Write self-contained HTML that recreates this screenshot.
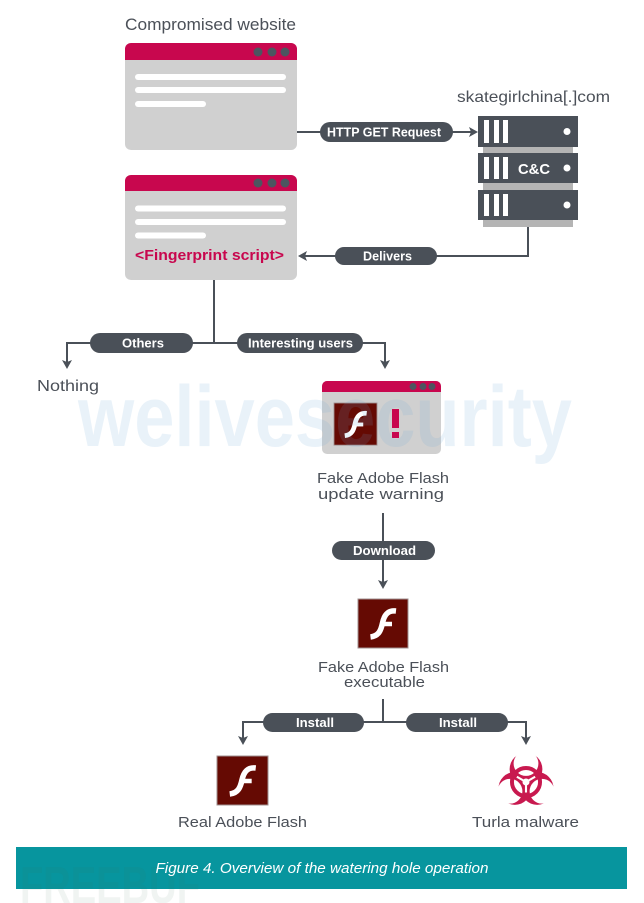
<!DOCTYPE html>
<html><head><meta charset="utf-8"><style>
html,body{margin:0;padding:0;background:#fff;}
svg{display:block;}
text{font-family:"Liberation Sans",sans-serif;}
</style></head><body>
<svg width="644" height="903" viewBox="0 0 644 903" xmlns="http://www.w3.org/2000/svg">
<rect width="644" height="903" fill="#fff"/>

<!-- Title -->
<text x="125" y="30" font-size="17" fill="#4b5058" textLength="171" lengthAdjust="spacingAndGlyphs">Compromised website</text>

<!-- Browser 1 -->
<rect x="125" y="43" width="172" height="107" rx="6" fill="#d0d0d0"/>
<path d="M125 60 V49 a6 6 0 0 1 6 -6 H291 a6 6 0 0 1 6 6 V60 Z" fill="#c8074e"/>
<circle cx="258" cy="52" r="4.5" fill="#4d5560"/>
<circle cx="272" cy="52" r="4.5" fill="#4d5560"/>
<circle cx="285" cy="52" r="4.5" fill="#4d5560"/>
<line x1="138" y1="77" x2="283" y2="77" stroke="#fff" stroke-width="6" stroke-linecap="round"/>
<line x1="138" y1="90" x2="283" y2="90" stroke="#fff" stroke-width="6" stroke-linecap="round"/>
<line x1="138" y1="104" x2="203" y2="104" stroke="#fff" stroke-width="6" stroke-linecap="round"/>

<!-- Browser 2 -->
<rect x="125" y="175" width="172" height="105" rx="6" fill="#d0d0d0"/>
<path d="M125 191 V181 a6 6 0 0 1 6 -6 H291 a6 6 0 0 1 6 6 V191 Z" fill="#c8074e"/>
<circle cx="258" cy="183" r="4.5" fill="#4d5560"/>
<circle cx="272" cy="183" r="4.5" fill="#4d5560"/>
<circle cx="285" cy="183" r="4.5" fill="#4d5560"/>
<line x1="138" y1="208.5" x2="283" y2="208.5" stroke="#fff" stroke-width="6" stroke-linecap="round"/>
<line x1="138" y1="222" x2="283" y2="222" stroke="#fff" stroke-width="6" stroke-linecap="round"/>
<line x1="138" y1="235.5" x2="203" y2="235.5" stroke="#fff" stroke-width="6" stroke-linecap="round"/>
<text x="135" y="260" font-size="15" font-weight="bold" fill="#c8074e" textLength="149" lengthAdjust="spacingAndGlyphs">&lt;Fingerprint script&gt;</text>

<!-- Server -->
<text x="457" y="102" font-size="16" fill="#4b5058" textLength="153" lengthAdjust="spacingAndGlyphs">skategirlchina[.]com</text>
<rect x="483" y="120" width="90" height="107" fill="#b4b4b4"/>
<g fill="#4a5058">
<rect x="478" y="116" width="100" height="31"/>
<rect x="478" y="153" width="100" height="30"/>
<rect x="478" y="190" width="100" height="30"/>
</g>
<g fill="#fff">
<rect x="484" y="120" width="5" height="23"/><rect x="494" y="120" width="5" height="23"/><rect x="503" y="120" width="5" height="23"/>
<rect x="484" y="157" width="5" height="22"/><rect x="494" y="157" width="5" height="22"/><rect x="503" y="157" width="5" height="22"/>
<rect x="484" y="194" width="5" height="22"/><rect x="494" y="194" width="5" height="22"/><rect x="503" y="194" width="5" height="22"/>
<circle cx="567" cy="131.5" r="3.5"/>
<circle cx="567" cy="168" r="3.5"/>
<circle cx="567" cy="205" r="3.5"/>
</g>
<text x="534" y="174" font-size="15" font-weight="bold" fill="#fff" text-anchor="middle" textLength="32" lengthAdjust="spacingAndGlyphs">C&amp;C</text>

<!-- Connectors -->
<g stroke="#4a5058" stroke-width="2" fill="none">
<line x1="297" y1="132" x2="474" y2="132"/>
<polyline points="528,227 528,256 302,256"/>
<line x1="214" y1="280" x2="214" y2="343"/>
<polyline points="67,364 67,343 385,343 385,364"/>
<line x1="383" y1="513" x2="383" y2="584"/>
<line x1="383" y1="699" x2="383" y2="722"/>
<polyline points="243,740 243,722 526,722 526,740"/>
</g>
<g fill="#4a5058">
<path d="M478 132 L469 127 L471 132 L469 137 Z"/>
<path d="M298 256 L307 251 L305 256 L307 261 Z"/>
<path d="M67 369 L62 360 L67 362 L72 360 Z"/>
<path d="M385 369 L380 360 L385 362 L390 360 Z"/>
<path d="M383 589 L378 580 L383 582 L388 580 Z"/>
<path d="M243 745 L238 736 L243 738 L248 736 Z"/>
<path d="M526 745 L521 736 L526 738 L531 736 Z"/>
</g>

<!-- Pills -->
<g fill="#4a5058">
<rect x="320" y="122" width="133" height="20" rx="10"/>
<rect x="335" y="247" width="102" height="18" rx="9"/>
<rect x="90" y="333" width="103" height="20" rx="10"/>
<rect x="237" y="333" width="126" height="20" rx="10"/>
<rect x="332" y="541" width="103" height="19" rx="9.5"/>
<rect x="263" y="713" width="101" height="19" rx="9.5"/>
<rect x="406" y="713" width="102" height="19" rx="9.5"/>
</g>
<g fill="#fff" font-size="12.5" font-weight="bold" text-anchor="middle">
<text x="384" y="136.5" textLength="114" lengthAdjust="spacingAndGlyphs">HTTP GET Request</text>
<text x="387.5" y="260.5" textLength="49" lengthAdjust="spacingAndGlyphs">Delivers</text>
<text x="143" y="347.5" textLength="42" lengthAdjust="spacingAndGlyphs">Others</text>
<text x="300.5" y="347.5" textLength="105" lengthAdjust="spacingAndGlyphs">Interesting users</text>
<text x="384.5" y="555" textLength="63" lengthAdjust="spacingAndGlyphs">Download</text>
<text x="315" y="727" textLength="38" lengthAdjust="spacingAndGlyphs">Install</text>
<text x="458" y="727" textLength="38" lengthAdjust="spacingAndGlyphs">Install</text>
</g>

<text x="37" y="391" font-size="16" fill="#4b5058" textLength="62" lengthAdjust="spacingAndGlyphs">Nothing</text>

<!-- Browser 3 -->
<rect x="322" y="381" width="119" height="73" rx="5" fill="#d0d0d0"/>
<path d="M322 392 V386 a5 5 0 0 1 5 -5 H436 a5 5 0 0 1 5 5 V392 Z" fill="#c8074e"/>
<circle cx="413" cy="386.5" r="3.5" fill="#4d5560"/>
<circle cx="423" cy="386.5" r="3.5" fill="#4d5560"/>
<circle cx="432" cy="386.5" r="3.5" fill="#4d5560"/>
<g transform="translate(334,403) scale(0.43)">
<rect x="0" y="0" width="100" height="98" fill="#650a03" stroke="#a09090" stroke-width="2"/>
<path d="M76 24 C58 22 52 34 49 48 C46 62 42 74 25 76" stroke="#fff" stroke-width="11" fill="none"/>
<path d="M46 50 L68 50" stroke="#fff" stroke-width="9"/>
</g>
<rect x="392" y="409" width="7" height="19" fill="#c8074e"/>
<rect x="392" y="432" width="7" height="6" fill="#c8074e"/>
<text x="383" y="483" font-size="15" fill="#4b5058" text-anchor="middle" textLength="132" lengthAdjust="spacingAndGlyphs">Fake Adobe Flash</text>
<text x="381" y="499" font-size="15" fill="#4b5058" text-anchor="middle" textLength="126" lengthAdjust="spacingAndGlyphs">update warning</text>

<!-- Flash exec -->
<g transform="translate(358,599) scale(0.5)">
<rect x="0" y="0" width="100" height="98" fill="#650a03" stroke="#a09090" stroke-width="2"/>
<path d="M76 24 C58 22 52 34 49 48 C46 62 42 74 25 76" stroke="#fff" stroke-width="11" fill="none"/>
<path d="M46 50 L68 50" stroke="#fff" stroke-width="9"/>
</g>
<text x="383.5" y="672" font-size="15" fill="#4b5058" text-anchor="middle" textLength="131" lengthAdjust="spacingAndGlyphs">Fake Adobe Flash</text>
<text x="384.5" y="687" font-size="15" fill="#4b5058" text-anchor="middle" textLength="81" lengthAdjust="spacingAndGlyphs">executable</text>

<!-- Real flash -->
<g transform="translate(217,756) scale(0.51,0.5)">
<rect x="0" y="0" width="100" height="98" fill="#650a03" stroke="#a09090" stroke-width="2"/>
<path d="M76 24 C58 22 52 34 49 48 C46 62 42 74 25 76" stroke="#fff" stroke-width="11" fill="none"/>
<path d="M46 50 L68 50" stroke="#fff" stroke-width="9"/>
</g>
<text x="178" y="827" font-size="15" fill="#4b5058" textLength="129" lengthAdjust="spacingAndGlyphs">Real Adobe Flash</text>

<!-- Biohazard -->
<mask id="bhm" maskUnits="userSpaceOnUse" x="-40" y="-40" width="80" height="80">
<rect x="-40" y="-40" width="80" height="80" fill="#000"/>
<g fill="#fff">
<circle cx="0" cy="-11" r="14"/>
<circle cx="-9.53" cy="5.5" r="14"/>
<circle cx="9.53" cy="5.5" r="14"/>
</g>
<g fill="#000">
<circle cx="0" cy="-15.8" r="10.6"/>
<circle cx="-13.68" cy="7.9" r="10.6"/>
<circle cx="13.68" cy="7.9" r="10.6"/>
</g>
<circle cx="0" cy="0" r="12" fill="none" stroke="#fff" stroke-width="3.4"/>
<g stroke="#000" stroke-width="1.8">
<line x1="0" y1="0" x2="0" y2="9"/>
<line x1="0" y1="0" x2="-7.8" y2="-4.5"/>
<line x1="0" y1="0" x2="7.8" y2="-4.5"/>
</g>
<circle cx="0" cy="0" r="3" fill="#000"/>
</mask>
<g transform="translate(526,782) scale(1.17)">
<rect x="-40" y="-40" width="80" height="80" fill="#c8194f" mask="url(#bhm)"/>
</g>
<text x="472" y="827" font-size="15" fill="#4b5058" textLength="107" lengthAdjust="spacingAndGlyphs">Turla malware</text>

<!-- welivesecurity watermark -->
<text x="78" y="446" font-size="86" font-weight="bold" fill="rgb(110,170,215)" fill-opacity="0.15" textLength="494" lengthAdjust="spacingAndGlyphs">welivesecurity</text>

<!-- Caption band -->
<rect x="16" y="847" width="611" height="42" fill="#07959e"/>
<text x="20" y="903" font-size="52" font-weight="bold" fill="rgb(60,110,95)" fill-opacity="0.08" textLength="180" lengthAdjust="spacingAndGlyphs">FREEBUF</text>
<text x="322" y="873" font-size="15" font-style="italic" fill="#fff" text-anchor="middle" textLength="333" lengthAdjust="spacingAndGlyphs">Figure 4. Overview of the watering hole operation</text>
</svg>
</body></html>
